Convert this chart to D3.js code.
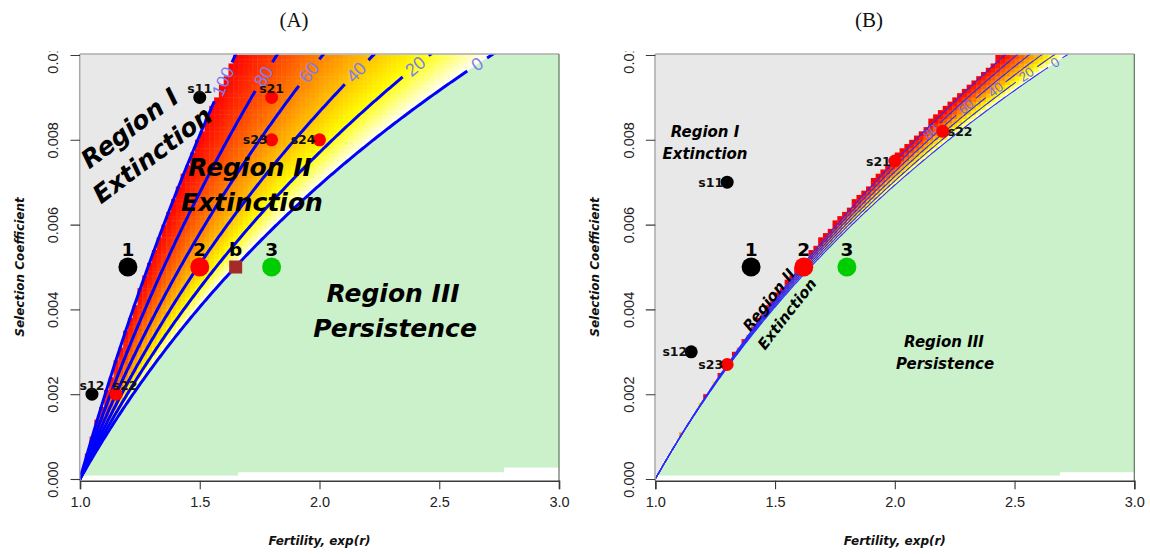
<!DOCTYPE html>
<html>
<head>
<meta charset="utf-8">
<script src="https://cdn.jsdelivr.net/npm/d3@7"></script>
<style>
  body { margin: 0; background: #fff; }
  svg { display: block; }
</style>
</head>
<body>
<svg id="chart" width="1150" height="554"></svg>
<script>
// ---------------- data ----------------
const fertTicks = [1.0, 1.5, 2.0, 2.5, 3.0];
const selTicks = [0.000, 0.002, 0.004, 0.006, 0.008, 0.010];
const contourLevels = [0, 20, 40, 60, 80, 100];

// persistence threshold (r / s) and width of the extinction band w(s) = scale * s^power
const persistRatio = 100;
const bandScaleA = 50, bandPowerA = 1;
const bandScaleB = 1000, bandPowerB = 2;

// selection coefficient at which each contour label sits
const labelSelA = [0.00978, 0.00973, 0.00959, 0.00959, 0.00949, 0.00937];
const labelSelB = [0.00982, 0.00954, 0.00918, 0.00878, 0.00819];

// scenario points, panel A
const caseNamesA = ["1", "2", "b", "3"];
const caseFertA = [1.2, 1.5, 1.65, 1.8];
const caseSelA = [0.005, 0.005, 0.005, 0.005];
const simNamesA = ["s11", "s21", "s23", "s24", "s12", "s22"];
const simFertA = [1.5, 1.8, 1.8, 2.0, 1.05, 1.15];
const simSelA = [0.009, 0.009, 0.008, 0.008, 0.002, 0.002];

// scenario points, panel B
const caseNamesB = ["1", "2", "3"];
const caseFertB = [1.4, 1.62, 1.8];
const caseSelB = [0.005, 0.005, 0.005];
const simNamesB = ["s11", "s12", "s21", "s22", "s23"];
const simFertB = [1.3, 1.15, 2.0, 2.2, 1.3];
const simSelB = [0.007, 0.003, 0.0075, 0.0082, 0.0027];

// ragged lower edge of the image area (fertility breaks and heights)
const edgeBreaksA = [1.0, 1.66, 2.77, 3.0];
const edgeSelA = [0.00008, 0.00016, 0.00027];
const edgeBreaksB = [1.0, 2.69, 3.0];
const edgeSelB = [0.00008, 0.00016];

// ---------------- styles ----------------
const GREY = "#e8e8e8";
const GREEN = "#caf1ca";
const caseColor = { "1": "#000000", "2": "#ff0000", "b": "#a52a2a", "3": "#00cd00" };
const simColor = name => name.startsWith("s1") ? "#000000" : "#ff0000";
const simPlaceA = { s11: "top", s21: "top", s23: "left", s24: "left", s12: "top", s22: "topright" };
const simPlaceB = { s11: "left", s12: "left", s21: "left", s22: "right", s23: "left" };
const ANN = "'DejaVu Sans', sans-serif";
const TICK = "'Liberation Sans', Arial, Helvetica, sans-serif";

function heat(v) {
  // red -> yellow over the upper range, yellow -> white near zero
  const yl = 22;
  if (v <= yl) {
    const b = Math.round(255 * (1 - v / yl));
    return `rgb(255,255,${b})`;
  }
  const h = 60 * (100 - v) / (100 - yl);
  return d3.hsl(h, 1, 0.5).formatHex();
}

const svg = d3.select("#chart");
const defs = svg.append("defs");

const yTop = 55, yBot = 479;

const panels = [
  {
    id: "A", left: 80, right: 559, title: "(A)", titleX: 294,
    bandScale: bandScaleA, bandPower: bandPowerA, cellRule: "center",
    labelSel: labelSelA, labelSize: 18, lineWidth: 3, lineColor: "#0000ff", labelColor: "#7d7df2",
    edgeBreaks: edgeBreaksA, edgeSel: edgeSelA,
    caseNames: caseNamesA, caseFert: caseFertA, caseSel: caseSelA,
    simNames: simNamesA, simFert: simFertA, simSel: simSelA, simPlace: simPlaceA,
    regions: [
      { lines: ["Region I", "Extinction"], x: 135, y: 135, rot: -37, size: 25, lh: 35, dx2: 2 },
      { lines: ["Region II", "Extinction"], x: 250, y: 176, rot: 0, size: 25, lh: 35, dx2: 2 },
      { lines: ["Region III", "Persistence"], x: 393, y: 302, rot: 0, size: 25, lh: 35, dx2: 2 }
    ]
  },
  {
    id: "B", left: 655.3, right: 1134.3, title: "(B)", titleX: 869,
    bandScale: bandScaleB, bandPower: bandPowerB, cellRule: "overlap",
    labelSel: labelSelB, labelSize: 13.5, lineWidth: 1.1, lineColor: "#2a2aff", labelColor: "#6f6fe6",
    edgeBreaks: edgeBreaksB, edgeSel: edgeSelB,
    caseNames: caseNamesB, caseFert: caseFertB, caseSel: caseSelB,
    simNames: simNamesB, simFert: simFertB, simSel: simSelB, simPlace: simPlaceB,
    regions: [
      { lines: ["Region I", "Extinction"], x: 705, y: 136.5, rot: 0, size: 15, lh: 22, dx2: 0 },
      { lines: ["Region II", "Extinction"], x: 773, y: 303, rot: -52, size: 15, lh: 23, dx2: 0 },
      { lines: ["Region III", "Persistence"], x: 944, y: 347, rot: 0, size: 15, lh: 22, dx2: 1 }
    ]
  }
];

panels.forEach(p => {
  const x = d3.scaleLinear().domain([1, 3]).range([p.left, p.right]);
  const y = d3.scaleLinear().domain([0, 0.01]).range([yBot, yTop]);
  const band = s => p.bandScale * Math.pow(s, p.bandPower);
  const value = (f, s) => s <= 0 ? -Infinity : 100 * (persistRatio * s - Math.log(f)) / band(s);

  const g = svg.append("g").attr("class", "panel-" + p.id);

  const clipId = "plot-clip-" + p.id;
  defs.append("clipPath").attr("id", clipId)
    .append("rect")
    .attr("x", p.left).attr("y", yTop - 1)
    .attr("width", p.right - p.left).attr("height", yBot - yTop + 3);

  const plot = g.append("g").attr("clip-path", `url(#${clipId})`);

  // Region I background
  plot.append("rect")
    .attr("x", p.left).attr("y", yTop - 1)
    .attr("width", p.right - p.left).attr("height", yBot - yTop + 3)
    .attr("fill", GREY);

  // heat-map cells covering the extinction band
  const nx = 100, ny = 100;
  const cells = [];
  for (let i = 0; i < nx; i++) {
    const f0 = 1 + 2 * i / nx, f1 = 1 + 2 * (i + 1) / nx;
    for (let j = 0; j < ny; j++) {
      const s0 = 0.01 * j / ny, s1 = 0.01 * (j + 1) / ny;
      const vc = value((f0 + f1) / 2, (s0 + s1) / 2);
      const vMin = value(f1, s0 > 0 ? s0 : 1e-9);
      const vMax = value(f0, s1);
      const inside = p.cellRule === "center"
        ? (vc <= 100 && vMax >= 0)
        : (vMin <= 100 && vMax >= 0 && vc <= 130);
      if (inside) cells.push({ f0, f1, s0, s1, v: Math.max(0, Math.min(100, vc)) });
    }
  }
  plot.append("g").selectAll("rect").data(cells).join("rect")
    .attr("x", d => x(d.f0))
    .attr("y", d => y(d.s1))
    .attr("width", d => x(d.f1) - x(d.f0) + 0.4)
    .attr("height", d => y(d.s0) - y(d.s1) + 0.4)
    .attr("fill", d => heat(d.v));

  // Region III (persistence)
  const sSteps = d3.range(0, 201).map(k => 0.01 * k / 200);
  const greenPts = sSteps.map(s => [Math.exp(persistRatio * s), s]);
  greenPts.push([3, 0.01], [3, 0]);
  plot.append("path")
    .attr("d", d3.line().x(d => x(d[0])).y(d => y(d[1]))(greenPts) + "Z")
    .attr("fill", GREEN);

  // white strip along the bottom of the image area
  const edges = p.edgeSel.map((s, k) => ({ f0: p.edgeBreaks[k], f1: p.edgeBreaks[k + 1], s }));
  plot.append("g").selectAll("rect").data(edges).join("rect")
    .attr("x", d => x(d.f0))
    .attr("width", d => x(d.f1) - x(d.f0))
    .attr("y", d => y(d.s))
    .attr("height", d => yBot + 3 - y(d.s))
    .attr("fill", "#ffffff");

  // contour lines with inline labels
  const contourG = plot.append("g");
  const lineSteps = d3.range(0, 601).map(k => 0.0104 * k / 600);
  contourLevels.forEach((lev, li) => {
    const fertAt = s => Math.exp(persistRatio * s - lev / 100 * band(s));
    const pts = lineSteps.map(s => [x(fertAt(s)), y(s)]);
    const ls = p.labelSel[li];
    let lab = null;
    if (ls !== undefined) {
      const lx = x(fertAt(ls)), ly = y(ls);
      const ax = x(fertAt(ls - 2e-5)), ay = y(ls - 2e-5);
      const bx = x(fertAt(ls + 2e-5)), by = y(ls + 2e-5);
      const ang = Math.atan2(by - ay, bx - ax) * 180 / Math.PI;
      const half = String(lev).length * 0.556 * p.labelSize / 2 + p.labelSize * 0.35;
      lab = { lx, ly, ang, half };
    }
    const keep = d => !lab || Math.hypot(d[0] - lab.lx, d[1] - lab.ly) > lab.half;
    contourG.append("path")
      .attr("d", d3.line().defined(keep)(pts))
      .attr("fill", "none")
      .attr("stroke", p.lineColor)
      .attr("stroke-width", p.lineWidth);
    if (lab) {
      contourG.append("text")
        .attr("transform", `translate(${lab.lx},${lab.ly}) rotate(${lab.ang})`)
        .attr("text-anchor", "middle")
        .attr("dominant-baseline", "central")
        .attr("font-family", TICK)
        .attr("font-size", p.labelSize)
        .attr("fill", p.labelColor)
        .text(lev);
    }
  });

  // frame
  g.append("line").attr("x1", p.left).attr("x2", p.right).attr("y1", 54).attr("y2", 54)
    .attr("stroke", "#acacac").attr("stroke-width", 1.5);
  g.append("line").attr("x1", p.left - 0.3).attr("x2", p.left - 0.3).attr("y1", 54).attr("y2", 481)
    .attr("stroke", "#a8a8a8").attr("stroke-width", 1.5);
  g.append("line").attr("x1", p.right).attr("x2", p.right).attr("y1", 54).attr("y2", 481)
    .attr("stroke", "#5f735f").attr("stroke-width", 1.2);

  // x axis
  const xAxis = g.append("g").attr("transform", `translate(0,${yBot + 1.7})`)
    .call(d3.axisBottom(x).tickValues(fertTicks).tickSize(8.5).tickPadding(8)
      .tickFormat(d3.format(".1f")));
  xAxis.select(".domain").attr("stroke", "#3a3a3a").attr("stroke-width", 1.6);
  xAxis.selectAll(".tick line").attr("stroke", "#3a3a3a").attr("stroke-width", 1.1);
  xAxis.selectAll(".tick text").attr("font-family", TICK).attr("font-size", 14.5).attr("fill", "#222");

  // y axis (rotated labels, top one trimmed by the figure edge)
  const yClipId = "ylab-clip-" + p.id;
  defs.append("clipPath").attr("id", yClipId)
    .append("rect").attr("x", -45).attr("y", 51.5).attr("width", 46).attr("height", 460);
  const yAxis = g.append("g").attr("transform", `translate(${p.left},0)`)
    .attr("clip-path", `url(#${yClipId})`)
    .call(d3.axisLeft(y).tickValues(selTicks).tickSize(9.5).tickPadding(0)
      .tickFormat(d3.format(".3f")));
  yAxis.select(".domain").remove();
  yAxis.selectAll(".tick line").attr("stroke", "#3a3a3a").attr("stroke-width", 1.1);
  yAxis.selectAll(".tick text")
    .attr("x", null).attr("dy", null)
    .attr("transform", "translate(-21.7,0) rotate(-90)")
    .attr("text-anchor", "middle")
    .attr("font-family", TICK).attr("font-size", 14.5).attr("fill", "#222");

  // axis titles
  g.append("text")
    .attr("x", (p.left + p.right) / 2).attr("y", 545)
    .attr("text-anchor", "middle")
    .attr("font-family", ANN).attr("font-weight", "bold").attr("font-style", "italic")
    .attr("font-size", 12).attr("fill", "#111")
    .text("Fertility, exp(r)");
  g.append("text")
    .attr("transform", `translate(${p.left - 56.5},${(yTop + yBot) / 2}) rotate(-90)`)
    .attr("text-anchor", "middle")
    .attr("font-family", ANN).attr("font-weight", "bold").attr("font-style", "italic")
    .attr("font-size", 12).attr("fill", "#111")
    .text("Selection Coefficient");

  // panel title
  g.append("text")
    .attr("x", p.titleX).attr("y", 27)
    .attr("text-anchor", "middle")
    .attr("font-family", "'Liberation Serif', 'Times New Roman', serif")
    .attr("font-size", 21).attr("fill", "#111")
    .text(p.title);

  // region annotations
  p.regions.forEach(r => {
    const rg = g.append("g").attr("transform", `translate(${r.x},${r.y}) rotate(${r.rot})`);
    r.lines.forEach((t, k) => {
      rg.append("text")
        .attr("x", k * r.dx2).attr("y", k * r.lh)
        .attr("text-anchor", "middle")
        .attr("font-family", ANN).attr("font-weight", "bold").attr("font-style", "italic")
        .attr("font-size", r.size).attr("fill", "#000")
        .text(t);
    });
  });

  // simulation points
  const sims = p.simNames.map((n, k) => ({ n, f: p.simFert[k], s: p.simSel[k] }));
  const ptG = g.append("g");
  ptG.selectAll("circle.sim").data(sims).join("circle")
    .attr("class", "sim")
    .attr("cx", d => x(d.f)).attr("cy", d => y(d.s)).attr("r", 6.5)
    .attr("fill", d => simColor(d.n));

  // scenario points
  const cases = p.caseNames.map((n, k) => ({ n, f: p.caseFert[k], s: p.caseSel[k] }));
  ptG.selectAll("circle.case").data(cases.filter(d => d.n !== "b")).join("circle")
    .attr("class", "case")
    .attr("cx", d => x(d.f)).attr("cy", d => y(d.s)).attr("r", 9.5)
    .attr("fill", d => caseColor[d.n]);
  ptG.selectAll("rect.case").data(cases.filter(d => d.n === "b")).join("rect")
    .attr("class", "case")
    .attr("x", d => x(d.f) - 6.5).attr("y", d => y(d.s) - 6.5)
    .attr("width", 13).attr("height", 13)
    .attr("fill", d => caseColor[d.n]);

  ptG.selectAll("text.case").data(cases).join("text")
    .attr("class", "case")
    .attr("x", d => x(d.f)).attr("y", d => y(d.s) - 11.5)
    .attr("text-anchor", "middle")
    .attr("font-family", ANN).attr("font-weight", "bold")
    .attr("font-size", 18.5).attr("fill", "#000")
    .text(d => d.n);

  ptG.selectAll("text.sim").data(sims).join("text")
    .attr("class", "sim")
    .each(function (d) {
      const place = p.simPlace[d.n];
      const cx = x(d.f), cy = y(d.s);
      const t = d3.select(this);
      if (place === "top") t.attr("x", cx).attr("y", cy - 4).attr("text-anchor", "middle");
      else if (place === "topright") t.attr("x", cx + 9).attr("y", cy - 4).attr("text-anchor", "middle");
      else if (place === "left") t.attr("x", cx - 4).attr("y", cy + 4.5).attr("text-anchor", "end");
      else t.attr("x", cx + 5).attr("y", cy + 4.5).attr("text-anchor", "start");
    })
    .attr("font-family", ANN).attr("font-weight", "bold")
    .attr("font-size", 12.5).attr("fill", "#111")
    .text(d => d.n);
});
</script>
</body>
</html>
